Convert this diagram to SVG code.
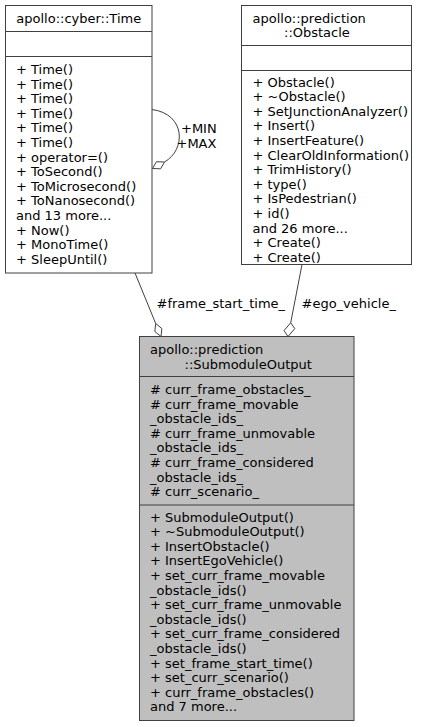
<svg xmlns="http://www.w3.org/2000/svg" width="425" height="727" viewBox="0 0 425 727">
<style>
text{font-family:"DejaVu Sans","Liberation Sans",sans-serif;font-size:13px;fill:#000}
.box{fill:#fff;stroke:#404040;stroke-width:1}
.hl{fill:#bfbfbf;stroke:#404040;stroke-width:1}
.sep{stroke:#404040;stroke-width:1}
.edge{fill:none;stroke:#404040;stroke-width:1}
.dia{fill:#fff;stroke:#404040;stroke-width:1}
</style>
<rect width="425" height="727" fill="#fff"/>
<g id="connectors">
<path class="edge" d="M152,109.5 C186,114 186,150 164.5,162"/>
<polygon class="dia" points="152.5,168.5 160.6,168.8 164.5,162 156.4,161.7"/>
<text x="181" y="133">+MIN</text>
<text x="176.5" y="147.5">+MAX</text>
<path class="edge" d="M135,273 L155.7,323.5"/>
<polygon class="dia" points="161,336.5 161.85,328.56 155.7,323.5 154.85,331.44"/>
<text x="156.5" y="308">#frame_start_time_</text>
<path class="edge" d="M302,264.5 L290.7,322.8"/>
<polygon class="dia" points="288,336.5 294.8,328.6 290.7,322.8 284,330.6"/>
<text x="301.5" y="308">#ego_vehicle_</text>
</g>
<g id="node_time">
<rect class="box" x="5.5" y="5.5" width="146.5" height="267.5"/>
<line class="sep" x1="5.5" y1="31.5" x2="152" y2="31.5"/>
<line class="sep" x1="5.5" y1="56.5" x2="152" y2="56.5"/>
<text x="78.75" y="22.5" text-anchor="middle">apollo::cyber::Time</text>
<text x="16" y="74">+ Time()</text>
<text x="16" y="88.6">+ Time()</text>
<text x="16" y="103.2">+ Time()</text>
<text x="16" y="117.8">+ Time()</text>
<text x="16" y="132.4">+ Time()</text>
<text x="16" y="147">+ Time()</text>
<text x="16" y="161.6">+ operator=()</text>
<text x="16" y="176.2">+ ToSecond()</text>
<text x="16" y="190.8">+ ToMicrosecond()</text>
<text x="16" y="205.4">+ ToNanosecond()</text>
<text x="16" y="220">and 13 more...</text>
<text x="16" y="234.6">+ Now()</text>
<text x="16" y="249.2">+ MonoTime()</text>
<text x="16" y="263.8">+ SleepUntil()</text>
</g>
<g id="node_obstacle">
<rect class="box" x="241.5" y="5.5" width="170" height="259"/>
<line class="sep" x1="241.5" y1="45.5" x2="411.5" y2="45.5"/>
<line class="sep" x1="241.5" y1="70.5" x2="411.5" y2="70.5"/>
<text x="252.5" y="22.5">apollo::prediction</text>
<text x="284" y="37">::Obstacle</text>
<text x="252.5" y="86.5">+ Obstacle()</text>
<text x="252.5" y="101.1">+ ~Obstacle()</text>
<text x="252.5" y="115.7">+ SetJunctionAnalyzer()</text>
<text x="252.5" y="130.3">+ Insert()</text>
<text x="252.5" y="144.9">+ InsertFeature()</text>
<text x="252.5" y="159.5">+ ClearOldInformation()</text>
<text x="252.5" y="174.1">+ TrimHistory()</text>
<text x="252.5" y="188.7">+ type()</text>
<text x="252.5" y="203.3">+ IsPedestrian()</text>
<text x="252.5" y="217.9">+ id()</text>
<text x="252.5" y="232.5">and 26 more...</text>
<text x="252.5" y="247.1">+ Create()</text>
<text x="252.5" y="261.7">+ Create()</text>
</g>
<g id="node_submodule_output">
<rect class="hl" x="139.5" y="336.5" width="214.5" height="384"/>
<line class="sep" x1="139.5" y1="376.5" x2="354" y2="376.5"/>
<line class="sep" x1="139.5" y1="505" x2="354" y2="505"/>
<text x="150" y="354">apollo::prediction</text>
<text x="184.5" y="368.6">::SubmoduleOutput</text>
<text x="150" y="394"># curr_frame_obstacles_</text>
<text x="150" y="408.6"># curr_frame_movable</text>
<text x="150" y="423.2">_obstacle_ids_</text>
<text x="150" y="437.8"># curr_frame_unmovable</text>
<text x="150" y="452.4">_obstacle_ids_</text>
<text x="150" y="467"># curr_frame_considered</text>
<text x="150" y="481.6">_obstacle_ids_</text>
<text x="150" y="496.2"># curr_scenario_</text>
<text x="150" y="521.5">+ SubmoduleOutput()</text>
<text x="150" y="536.1">+ ~SubmoduleOutput()</text>
<text x="150" y="550.7">+ InsertObstacle()</text>
<text x="150" y="565.3">+ InsertEgoVehicle()</text>
<text x="150" y="579.9">+ set_curr_frame_movable</text>
<text x="150" y="594.5">_obstacle_ids()</text>
<text x="150" y="609.1">+ set_curr_frame_unmovable</text>
<text x="150" y="623.7">_obstacle_ids()</text>
<text x="150" y="638.3">+ set_curr_frame_considered</text>
<text x="150" y="652.9">_obstacle_ids()</text>
<text x="150" y="667.5">+ set_frame_start_time()</text>
<text x="150" y="682.1">+ set_curr_scenario()</text>
<text x="150" y="696.7">+ curr_frame_obstacles()</text>
<text x="150" y="711.3">and 7 more...</text>
</g>
</svg>
